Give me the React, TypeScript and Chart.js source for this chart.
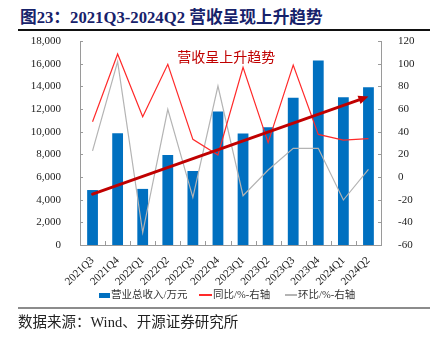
import React, { useEffect, useRef } from "react";
import { Chart, registerables } from "chart.js";

Chart.register(...registerables);

const categories = ["2021Q3", "2021Q4", "2022Q1", "2022Q2", "2022Q3", "2022Q4", "2023Q1", "2023Q2", "2023Q3", "2023Q4", "2024Q1", "2024Q2"];
const revenue = [4850, 9870, 4950, 7950, 6530, 11770, 9830, 10380, 13000, 16270, 13030, 13920];
const yoy = [48.8, 108.5, 53.2, 99.4, 33.2, 19.4, 96.8, 30.3, 98.8, 37.6, 32.6, 33.8];
const qoq = [23, 101.8, -49, 59.7, -18, 80.3, -16.5, 6.2, 25.3, 25.3, -20.3, 6.8];
const leftTicks = { min: 0, max: 18000, step: 2000 };
const rightTicks = { min: -60, max: 120, step: 20 };
const arrowFrom = { index: 0, value: 4490 };
const arrowTo = { index: 11, value: 13100 };
const noteText = "营收呈上升趋势";
const notePos = { index: 5.33, value: 16590 };

const titleText = "图23：2021Q3-2024Q2 营收呈现上升趋势";
const legendLabels = ["营业总收入/万元", "同比/%-右轴", "环比/%-右轴"];
const sourceText = "数据来源：Wind、开源证券研究所";

const BLUE = "#0070c0";
const RED = "#ff2a2a";
const GRAY = "#b4b4b4";
const DARKRED = "#c00000";
const AXIS = "#9a9a9a";
const SERIF = '"Liberation Serif", "Times New Roman", "Noto Sans CJK SC", serif';
const CJK = '"Liberation Serif", "Noto Sans CJK SC", sans-serif';

const decorPlugin = {
  id: "decor",
  afterDatasetsDraw(chart: any) {
    const ctx = chart.ctx;
    const x = chart.scales.x;
    const y = chart.scales.y;
    const y1 = chart.scales.y1;
    // inner tick marks
    ctx.save();
    ctx.strokeStyle = AXIS;
    ctx.lineWidth = 1;
    ctx.beginPath();
    y.ticks.forEach((_t: any, i: number) => {
      const py = Math.round(y.getPixelForTick(i)) + 0.5;
      ctx.moveTo(x.left, py);
      ctx.lineTo(x.left + 3, py);
    });
    y1.ticks.forEach((_t: any, i: number) => {
      const py = Math.round(y1.getPixelForTick(i)) + 0.5;
      ctx.moveTo(x.right, py);
      ctx.lineTo(x.right - 3, py);
    });
    for (let i = 0; i <= categories.length; i++) {
      const px = Math.round(x.getPixelForValue(i - 0.5)) + 0.5;
      ctx.moveTo(px, y.bottom);
      ctx.lineTo(px, y.bottom - 4);
    }
    ctx.stroke();
    ctx.restore();

    // arrow
    const x0 = x.getPixelForValue(arrowFrom.index);
    const yA = y.getPixelForValue(arrowFrom.value);
    const x1 = x.getPixelForValue(arrowTo.index);
    const yB = y.getPixelForValue(arrowTo.value);
    const ang = Math.atan2(yB - yA, x1 - x0);
    const headLen = 10;
    const headW = 4.5;
    const bx = x1 - headLen * Math.cos(ang);
    const by = yB - headLen * Math.sin(ang);
    ctx.save();
    ctx.strokeStyle = DARKRED;
    ctx.fillStyle = DARKRED;
    ctx.lineWidth = 3;
    ctx.lineCap = "round";
    ctx.beginPath();
    ctx.moveTo(x0, yA);
    ctx.lineTo(bx, by);
    ctx.stroke();
    ctx.beginPath();
    ctx.moveTo(x1, yB);
    ctx.lineTo(bx + headW * Math.sin(ang), by - headW * Math.cos(ang));
    ctx.lineTo(bx - headW * Math.sin(ang), by + headW * Math.cos(ang));
    ctx.closePath();
    ctx.fill();

    // annotation
    ctx.font = '14px "Noto Sans CJK SC", sans-serif';
    ctx.textAlign = "center";
    ctx.textBaseline = "middle";
    ctx.fillStyle = DARKRED;
    ctx.fillText(noteText, x.getPixelForValue(notePos.index), y.getPixelForValue(notePos.value));
    ctx.restore();
  },
};

export default function App() {
  const ref = useRef<HTMLCanvasElement | null>(null);

  useEffect(() => {
    if (!ref.current) return;
    const chart = new Chart(ref.current, {
      type: "bar",
      data: {
        labels: categories,
        datasets: [
          {
            type: "line",
            label: legendLabels[1],
            data: yoy,
            yAxisID: "y1",
            borderColor: RED,
            borderWidth: 1.2,
            pointRadius: 0,
            tension: 0,
            order: 1,
          } as any,
          {
            type: "line",
            label: legendLabels[2],
            data: qoq,
            yAxisID: "y1",
            borderColor: GRAY,
            borderWidth: 1.2,
            pointRadius: 0,
            tension: 0,
            order: 2,
          } as any,
          {
            type: "bar",
            label: legendLabels[0],
            data: revenue,
            yAxisID: "y",
            backgroundColor: BLUE,
            barPercentage: 0.43,
            categoryPercentage: 1,
            order: 3,
          },
        ],
      },
      options: {
        responsive: false,
        animation: false,
        layout: { padding: { left: 0, right: 0, top: 41, bottom: 0 } },
        plugins: {
          legend: { display: false },
          tooltip: { enabled: false },
        },
        scales: {
          x: {
            offset: true,
            grid: { display: false },
            border: { display: true, color: AXIS },
            ticks: {
              font: { family: SERIF, size: 11 },
              color: "#222",
              minRotation: 44,
              maxRotation: 44,
              padding: 1,
              autoSkip: false,
            },
            afterFit(scale: any) {
              scale.height = 45;
            },
          },
          y: {
            position: "left",
            min: leftTicks.min,
            max: leftTicks.max,
            grid: { display: false },
            border: { display: true, color: AXIS },
            ticks: {
              stepSize: leftTicks.step,
              font: { family: SERIF, size: 11 },
              color: "#222",
              padding: 11,
              callback: (v: any) => Number(v).toLocaleString("en-US"),
            },
            afterFit(scale: any) {
              scale.width = 80;
            },
          },
          y1: {
            position: "right",
            min: rightTicks.min,
            max: rightTicks.max,
            grid: { display: false },
            border: { display: true, color: AXIS },
            ticks: {
              stepSize: rightTicks.step,
              font: { family: SERIF, size: 11 },
              color: "#222",
              padding: 9,
            },
            afterFit(scale: any) {
              scale.width = 59;
            },
          },
        },
      } as any,
      plugins: [decorPlugin],
    });
    return () => chart.destroy();
  }, []);

  const legendText: React.CSSProperties = {
    position: "absolute",
    top: 287,
    fontFamily: CJK,
    fontSize: 10.5,
    color: "#333",
    lineHeight: "16px",
    whiteSpace: "nowrap",
  };

  return (
    <div style={{ position: "fixed", left: 0, top: 0, width: 440, height: 339, background: "#fff", overflow: "hidden" }}>
      <div
        style={{
          position: "absolute",
          left: 20,
          top: 9,
          fontFamily: CJK,
          fontWeight: "bold",
          fontSize: 16.7,
          lineHeight: "18px",
          color: "#17226b",
          whiteSpace: "nowrap",
        }}
      >
        {titleText}
      </div>
      <div style={{ position: "absolute", left: 18, top: 29, width: 412, height: 1.5, background: "#111" }} />
      <canvas ref={ref} width={440} height={290} style={{ position: "absolute", left: 0, top: 0, width: 440, height: 290 }} />
      <div style={{ position: "absolute", left: 99, top: 293, width: 11, height: 4.5, background: BLUE }} />
      <div style={{ ...legendText, left: 111 }}>{legendLabels[0]}</div>
      <div style={{ position: "absolute", left: 199, top: 294, width: 13, height: 1.5, background: RED }} />
      <div style={{ ...legendText, left: 213 }}>{legendLabels[1]}</div>
      <div style={{ position: "absolute", left: 285, top: 294, width: 12, height: 1.5, background: GRAY }} />
      <div style={{ ...legendText, left: 298 }}>{legendLabels[2]}</div>
      <div style={{ position: "absolute", left: 18, top: 307, width: 412, height: 2, background: "#8c8c8c" }} />
      <div
        style={{
          position: "absolute",
          left: 18,
          top: 313,
          fontFamily: CJK,
          fontSize: 14.5,
          lineHeight: "18px",
          color: "#222",
          whiteSpace: "nowrap",
        }}
      >
        {sourceText}
      </div>
    </div>
  );
}
